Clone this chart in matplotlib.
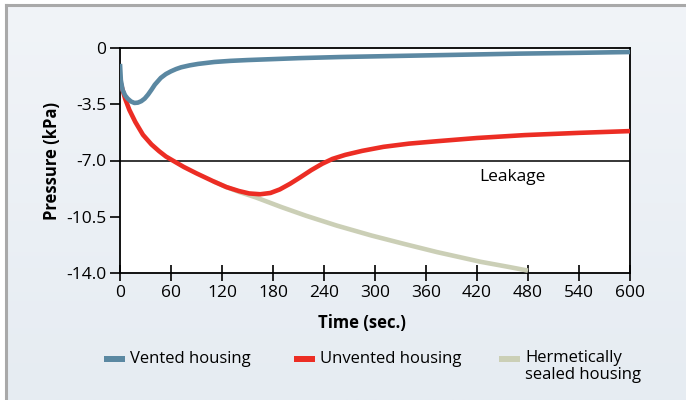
import numpy as np
import matplotlib
matplotlib.use("Agg")
import matplotlib.pyplot as plt
from matplotlib.colors import LinearSegmentedColormap
from matplotlib.patches import Rectangle

plt.rcParams['font.family'] = ['Open Sans', 'DejaVu Sans']

# data (time in s, pressure in kPa)
vented_t = [0, 1, 3, 6, 9, 13, 17, 21, 25, 29, 33, 37, 41, 48, 54, 60, 66,
            72, 82, 92, 111, 130, 150, 211, 260, 320, 400, 470, 540, 600]
vented_p = [-0.99, -2.0, -2.6, -2.95, -3.15, -3.33, -3.42, -3.4, -3.31,
            -3.15, -2.9, -2.6, -2.28, -1.86, -1.62, -1.45, -1.31, -1.2, -1.08,
            -0.99, -0.87, -0.8, -0.75, -0.63, -0.56, -0.5, -0.42, -0.35,
            -0.3, -0.25]

unvented_t = [0, 3, 6, 11, 18, 27, 37, 46, 54, 62, 75, 90, 110, 125, 140, 152,
              165, 177, 188, 200, 212, 225, 238, 250, 265, 285, 310, 340, 373,
              420, 476, 540, 600]
unvented_p = [-2.0, -2.6, -3.15, -3.85, -4.6, -5.4, -6.0, -6.42, -6.75, -7.0,
              -7.4, -7.8, -8.3, -8.65, -8.9, -9.05, -9.1, -9.02, -8.8, -8.45,
              -8.05, -7.6, -7.2, -6.9, -6.65, -6.4, -6.15, -5.95, -5.8, -5.6,
              -5.42, -5.28, -5.17]

sealed_t = [110, 125, 140, 160, 190, 219, 255, 296, 335, 373, 424, 455, 480]
sealed_p = [-8.3, -8.65, -8.95, -9.3, -9.9, -10.44, -11.05, -11.67, -12.2,
            -12.7, -13.3, -13.6, -13.85]

leak_level = -7.0
x_ticks = [0, 60, 120, 180, 240, 300, 360, 420, 480, 540, 600]
y_ticks = [0, -3.5, -7.0, -10.5, -14.0]
y_tick_labels = ['0', '-3.5', '-7.0', '-10.5', '-14.0']
series_names = ['Vented housing', 'Unvented housing', 'Hermetically\nsealed housing']
series_colors = ['#5b88a2', '#ec2d24', '#cbcfb6']

W, H = 686, 400
fig = plt.figure(figsize=(W / 100, H / 100), dpi=100, facecolor='white')

# gradient background panel with grey frame on left / top
bg = fig.add_axes([6 / W, 0, 1 - 6 / W, 1 - 5 / H], zorder=-10)
cmap = LinearSegmentedColormap.from_list('bg', ['#e6ecf2', '#f1f4f8'])
bg.imshow(np.linspace(0, 1, 256).reshape(-1, 1), aspect='auto', cmap=cmap,
          origin='lower', extent=[0, 1, 0, 1])
bg.set_xticks([])
bg.set_yticks([])
for side in ['right', 'bottom']:
    bg.spines[side].set_visible(False)
for side in ['left', 'top']:
    bg.spines[side].set_color('#a9a9a9')
    bg.spines[side].set_linewidth(2.2)

ax = fig.add_axes([120 / W, 1 - 273 / H, 510 / W, 225 / H])
ax.set_facecolor('white')

ax.axhline(leak_level, color='black', lw=1.1, zorder=2)
ax.text(462, -8.0, 'Leakage', fontsize=12.5, ha='center', va='center')

ax.plot(sealed_t, sealed_p, color=series_colors[2], lw=3.3,
        solid_capstyle='butt', zorder=3)
ax.plot(unvented_t, unvented_p, color=series_colors[1], lw=3.3,
        solid_capstyle='butt', zorder=4)
ax.plot(vented_t, vented_p, color=series_colors[0], lw=3.3,
        solid_capstyle='butt', zorder=5)

ax.set_xlim(0, 600)
ax.set_ylim(-14, 0)
ax.set_xticks(x_ticks)
ax.set_yticks(y_ticks)
ax.set_yticklabels(y_tick_labels)
ax.tick_params(axis='x', direction='inout', length=11, width=1.2,
               labelsize=12.5, pad=3)
ax.tick_params(axis='y', direction='out', length=7, width=1.2,
               labelsize=12.5, pad=3)
for s in ax.spines.values():
    s.set_linewidth(1.3)

ax.set_xlabel('Time (sec.)', fontsize=12, fontweight='bold')
ax.set_ylabel('Pressure (kPa)', fontsize=12, fontweight='bold')
ax.xaxis.set_label_coords((362 - 120) / 510, -(314 - 273) / 225)
ax.yaxis.set_label_coords(-(120 - 61) / 510, 0.5)

# legend drawn by hand
patch_x = [104, 294, 499]
for name, color, px in zip(series_names, series_colors, patch_x):
    fig.add_artist(Rectangle((px / W, 1 - 362 / H), 21 / W, 6 / H,
                             transform=fig.transFigure, color=color, lw=0))
    if '\n' in name:
        fig.text((px + 26) / W, 1 - 350 / H, name, fontsize=12, ha='left',
                 va='top', linespacing=1.1)
    else:
        fig.text((px + 26) / W, 1 - 359 / H, name, fontsize=12, ha='left',
                 va='center')

fig.savefig('out.png', dpi=100)
